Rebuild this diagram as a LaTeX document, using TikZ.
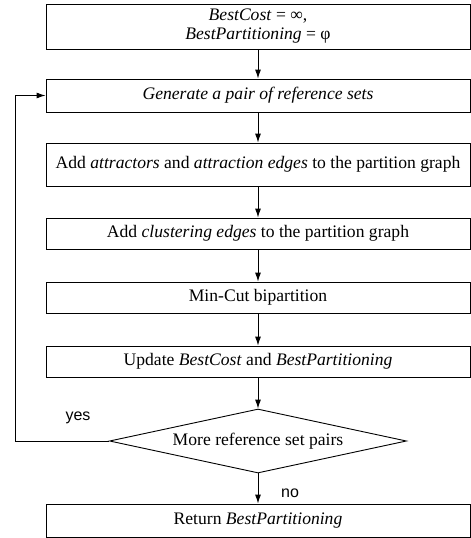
\documentclass[tikz,border=0pt]{standalone}
\usepackage{fontspec}
\setmainfont{Liberation Serif}
\newfontfamily\labelfont{Liberation Sans}
\usetikzlibrary{arrows.meta,positioning,shapes.geometric}
\tikzset{
  stepbox/.style={draw=black, align=center, inner sep=2pt, minimum width=424pt, minimum height=31pt, font=\fontsize{17.6}{19}\selectfont},
  decision/.style={draw=black, diamond, aspect=4.6, inner sep=0pt, minimum width=297pt, minimum height=64pt, font=\fontsize{17.6}{19}\selectfont},
  arrow/.style={-{Latex[length=9pt,width=6pt]}, line width=0.9pt},
  answer/.style={font=\labelfont\fontsize{16}{18}\selectfont, inner sep=0pt}
}

\begin{document}
\begin{tikzpicture}[x=1pt,y=-1pt, line width=0.9pt]
\useasboundingbox (0,0) rectangle (471,538);

\node[stepbox, minimum height=45pt] (init) at (258,26.5) {\textit{BestCost} = ∞,\\ \textit{BestPartitioning} = φ};
\node[stepbox, minimum height=33pt] (gen) at (258,95.5) {\textit{Generate a pair of reference sets}};
\node[stepbox, minimum height=43pt] (attr) at (258,164.5) {Add \textit{attractors} and \textit{attraction edges} to the partition graph};
\node[stepbox] (clust) at (258,233.5) {Add \textit{clustering edges} to the partition graph};
\node[stepbox] (mincut) at (258,297.5) {Min-Cut bipartition};
\node[stepbox] (update) at (258,361.5) {Update \textit{BestCost} and \textit{BestPartitioning}};
\node[decision] (more) at (258,441) {More reference set pairs};
\node[stepbox, minimum height=33pt] (ret) at (258,520.5) {Return \textit{BestPartitioning}};

\draw[arrow] (init) -- (gen);
\draw[arrow] (gen) -- (attr);
\draw[arrow] (attr) -- (clust);
\draw[arrow] (clust) -- (mincut);
\draw[arrow] (mincut) -- (update);
\draw[arrow] (update) -- (more);
\draw[arrow] (more) -- (ret);

% loop back
\coordinate (loop) at (15,441);
\draw[arrow] (more.west) -- (loop) |- (gen.west);

\node[answer] (yes) at (78,418) {yes};
\node[answer] (no) at (290,493) {no};
\end{tikzpicture}
\end{document}
